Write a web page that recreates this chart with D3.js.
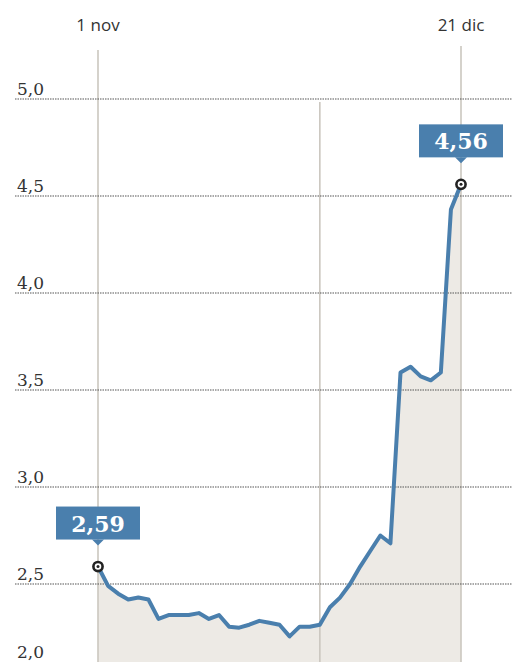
<!DOCTYPE html>
<html>
<head>
<meta charset="utf-8">
<script src="https://cdn.jsdelivr.net/npm/d3@7"></script>
<style>
  html, body { margin: 0; padding: 0; background: #fff; }
  svg { display: block; }
</style>
</head>
<body>
<svg id="chart" width="512" height="662"></svg>
<script>
// Trading days, 1 Nov – 21 Dec
const dates = [
  "2011-11-01","2011-11-02","2011-11-03","2011-11-04","2011-11-07","2011-11-08","2011-11-09",
  "2011-11-10","2011-11-11","2011-11-14","2011-11-15","2011-11-16","2011-11-17","2011-11-18",
  "2011-11-21","2011-11-22","2011-11-23","2011-11-24","2011-11-25","2011-11-28","2011-11-29",
  "2011-11-30","2011-12-01","2011-12-02","2011-12-05","2011-12-06","2011-12-07","2011-12-08",
  "2011-12-09","2011-12-12","2011-12-13","2011-12-14","2011-12-15","2011-12-16","2011-12-19",
  "2011-12-20","2011-12-21"
];
const values = [
  2.59, 2.49, 2.45, 2.42, 2.43, 2.42, 2.32,
  2.34, 2.34, 2.34, 2.35, 2.32, 2.34, 2.28,
  2.275, 2.29, 2.31, 2.30, 2.29, 2.23, 2.28,
  2.28, 2.29, 2.38, 2.43, 2.50, 2.59, 2.67,
  2.75, 2.71, 3.59, 3.62, 3.57, 3.55, 3.59,
  4.43, 4.56
];
const yTicks = [2.0, 2.5, 3.0, 3.5, 4.0, 4.5, 5.0];
const topLabels = [
  { date: "2011-11-01", text: "1 nov" },
  { date: "2011-12-21", text: "21 dic" }
];
const guideDates = ["2011-11-01", "2011-12-01", "2011-12-21"];
const callouts = [
  { date: "2011-11-01", value: 2.59, text: "2,59" },
  { date: "2011-12-21", value: 4.56, text: "4,56" }
];

const W = 512, H = 662;
const svg = d3.select("#chart");
const locale = d3.formatLocale({ decimal: ",", thousands: ".", grouping: [3], currency: ["", "€"] });
const fmt = locale.format(".1f");

const x = d3.scalePoint().domain(dates).range([98, 461]).padding(0);
const y = d3.scaleLinear().domain([2.5, 5.0]).range([584, 99]);

const data = dates.map((d, i) => ({ d, v: values[i] }));

// area
const area = d3.area().x(p => x(p.d)).y0(H).y1(p => y(p.v));
svg.append("path").datum(data).attr("d", area).attr("fill", "#edeae5");

// vertical guides
const guideTop = { "2011-11-01": 50, "2011-12-01": 102, "2011-12-21": 46 };
svg.selectAll("line.guide").data(guideDates).enter().append("line")
  .attr("class", "guide")
  .attr("x1", d => x(d)).attr("x2", d => x(d))
  .attr("y1", d => guideTop[d]).attr("y2", H)
  .attr("stroke", "#cbc7bf").attr("stroke-width", 1.6);

// grid lines
svg.selectAll("line.grid").data(yTicks.filter(t => y(t) < H)).enter().append("line")
  .attr("class", "grid")
  .attr("x1", 15).attr("x2", W)
  .attr("y1", d => y(d)).attr("y2", d => y(d))
  .attr("stroke", "#555").attr("stroke-width", 1.2)
  .attr("stroke-dasharray", "1.5,1");

// y labels
svg.selectAll("text.ylab").data(yTicks).enter().append("text")
  .attr("class", "ylab")
  .attr("x", 17)
  .attr("y", d => Math.min(y(d) - 4, H - 4))
  .attr("font-family", "DejaVu Serif, Liberation Serif, serif")
  .attr("font-size", 17)
  .attr("fill", "#333")
  .text(d => fmt(d));

// top labels
svg.selectAll("text.top").data(topLabels).enter().append("text")
  .attr("class", "top")
  .attr("x", d => x(d.date))
  .attr("y", 31)
  .attr("text-anchor", "middle")
  .attr("font-family", "Open Sans, sans-serif")
  .attr("font-size", 17)
  .attr("fill", "#333")
  .text(d => d.text);

// line
const line = d3.line().x(p => x(p.d)).y(p => y(p.v)).curve(d3.curveLinear);
svg.append("path").datum(data).attr("d", line)
  .attr("fill", "none").attr("stroke", "#4a7fad").attr("stroke-width", 4)
  .attr("stroke-linejoin", "round").attr("stroke-linecap", "round");

// callouts
const bw = 84, bh = 33;
callouts.forEach(c => {
  const px = x(c.date), py = y(c.value);
  const g = svg.append("g");
  const bottom = py - 27;
  g.append("rect")
    .attr("x", px - bw / 2).attr("y", bottom - bh)
    .attr("width", bw).attr("height", bh)
    .attr("fill", "#4a7fad");
  g.append("path")
    .attr("d", `M${px - 6},${bottom} L${px + 6},${bottom} L${px},${bottom + 6} Z`)
    .attr("fill", "#4a7fad");
  g.append("text")
    .attr("x", px).attr("y", bottom - 8)
    .attr("text-anchor", "middle")
    .attr("font-family", "DejaVu Serif, Liberation Serif, serif")
    .attr("font-weight", "bold")
    .attr("font-size", 22)
    .attr("fill", "#fff")
    .text(c.text);
  g.append("circle").attr("cx", px).attr("cy", py).attr("r", 4.6)
    .attr("fill", "#fff").attr("stroke", "#222").attr("stroke-width", 2.6);
  g.append("circle").attr("cx", px).attr("cy", py).attr("r", 1.5).attr("fill", "#222");
});
</script>
</body>
</html>
